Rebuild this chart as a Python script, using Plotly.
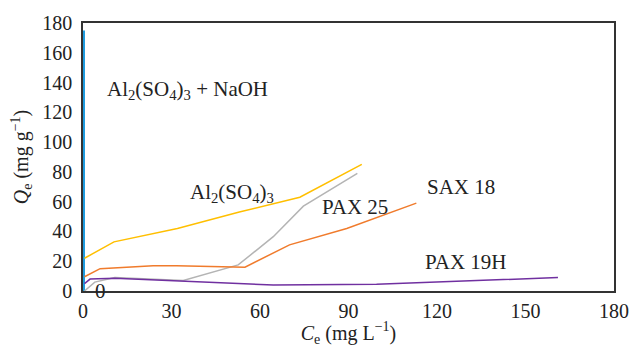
import plotly.graph_objects as go

# Data
naoh_x = [0.3, 0.3]
naoh_y = [0, 175]

al_x = [0.5, 10.5, 32, 53, 73.5, 94.5]
al_y = [22, 33, 42, 53, 63, 85]

pax25_x = [0.5, 4, 10.8, 34, 52.6, 64.5, 74.7, 93]
pax25_y = [0, 6, 9, 7, 17.5, 36.5, 57, 79]

sax18_x = [0.5, 5.8, 23.8, 31.7, 54.9, 70, 89.4, 113]
sax18_y = [9.6, 15, 17, 17, 16, 31, 42, 59]

pax19_x = [0.5, 2.4, 10.8, 30.6, 64.5, 99.5, 161]
pax19_y = [5, 8, 8.5, 7, 4, 4.5, 9]

x_ticks = [0, 30, 60, 90, 120, 150, 180]
y_ticks = [0, 20, 40, 60, 80, 100, 120, 140, 160, 180]

FONT = "Liberation Serif"
FS = 21

fig = go.Figure()
series = [
    (naoh_x, naoh_y, "#1f9bde", "Al2(SO4)3 + NaOH", 2.2),
    (pax25_x, pax25_y, "#b4b4b4", "PAX 25", 1.5),
    (pax19_x, pax19_y, "#7030a0", "PAX 19H", 1.5),
    (sax18_x, sax18_y, "#f07b2c", "SAX 18", 1.5),
    (al_x, al_y, "#ffbf00", "Al2(SO4)3", 1.5),
]
for xs, ys, col, name, w in series:
    fig.add_trace(go.Scatter(x=xs, y=ys, mode="lines", name=name,
                             line=dict(color=col, width=w), showlegend=False))

annots = [
    (7.5, 135, "Al<sub>2</sub>(SO<sub>4</sub>)<sub>3</sub> + NaOH"),
    (35.6, 66, "Al<sub>2</sub>(SO<sub>4</sub>)<sub>3</sub>"),
    (80.3, 56.6, "PAX 25"),
    (116, 69.6, "SAX 18"),
    (115.4, 19.3, "PAX 19H"),
]
for x, y, t in annots:
    fig.add_annotation(x=x, y=y, text=t, showarrow=False, xanchor="left",
                       yanchor="middle", font=dict(family=FONT, size=FS, color="#222"))
fig.add_annotation(x=5.8, y=0, text="0", showarrow=False, xanchor="center",
                   yanchor="middle", font=dict(family=FONT, size=FS, color="#222"))

axis_common = dict(showgrid=False, zeroline=False, showline=True, mirror=True,
                   linecolor="#333", linewidth=1.5, ticks="outside",
                   tickcolor="rgba(0,0,0,0)", automargin=False,
                   tickfont=dict(family=FONT, size=FS - 1, color="#222"))

fig.update_xaxes(range=[0, 180], tickvals=x_ticks, ticktext=[str(v) for v in x_ticks],
                 ticklen=1,
                 title=dict(text="<i>C</i><sub>e</sub> (mg L<sup>−1</sup>)",
                            font=dict(family=FONT, size=FS - 1, color="#222"), standoff=0),
                 **axis_common)
fig.update_yaxes(range=[0, 180], tickvals=y_ticks, ticktext=[str(v) for v in y_ticks],
                 ticklen=5,
                 title=dict(text="<i>Q</i><sub>e</sub> (mg g<sup>−1</sup>)",
                            font=dict(family=FONT, size=FS - 1, color="#222"), standoff=8),
                 **axis_common)

fig.update_layout(width=630, height=347, plot_bgcolor="white", paper_bgcolor="white",
                  margin=dict(l=83, r=16, t=23, b=56))

fig.write_html("out.html", config={"displayModeBar": False},
               post_script="document.body.style.margin='0';")
